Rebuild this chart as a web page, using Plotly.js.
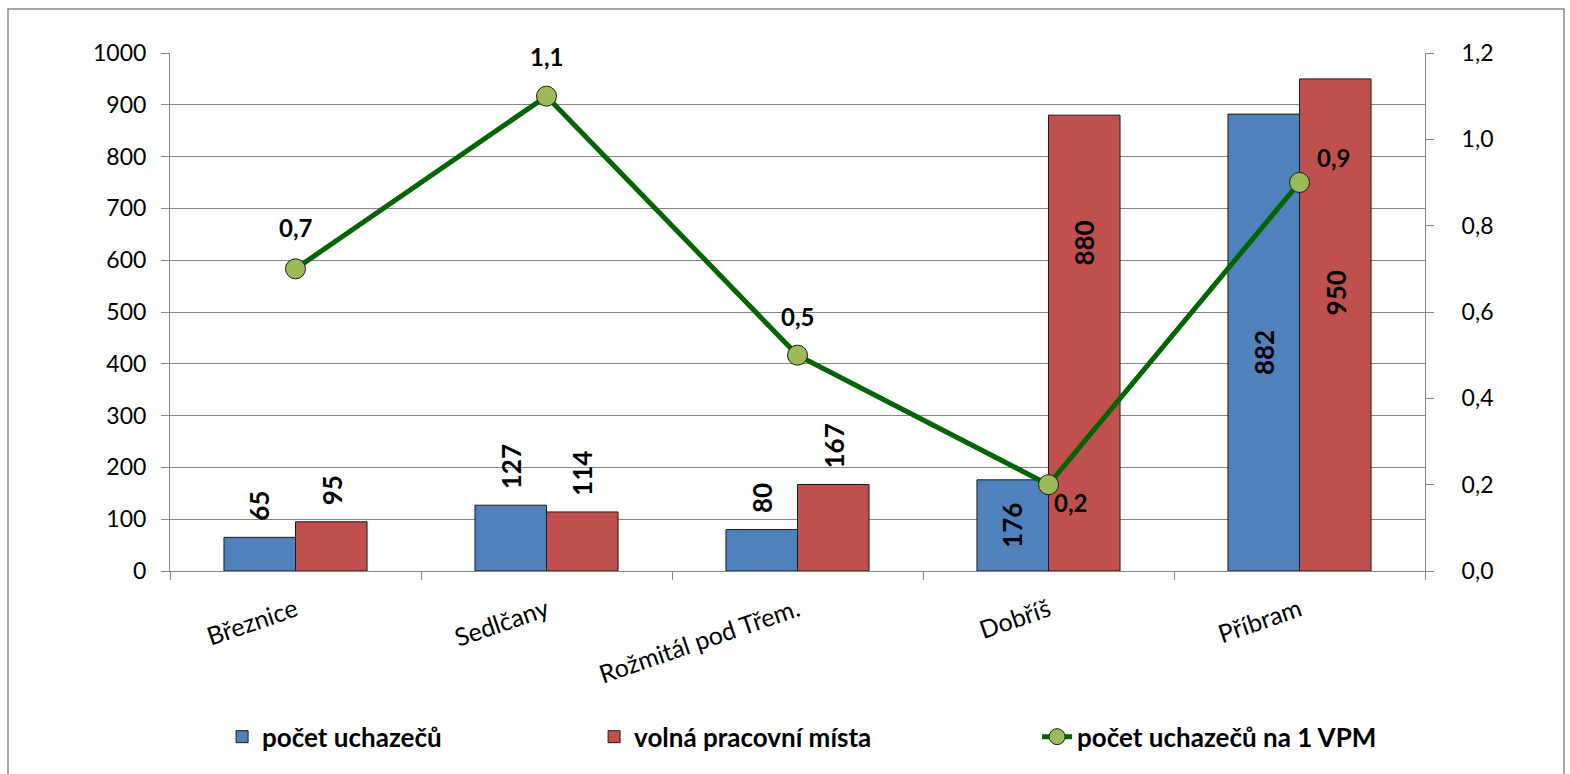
<!DOCTYPE html>
<html>
<head>
<meta charset="utf-8">
<script src="https://cdn.plot.ly/plotly-3.0.1.min.js"></script>
<style>
  html, body { margin: 0; padding: 0; background: #fff; }
  #chart { width: 1570px; height: 774px; }
</style>
</head>
<body>
<div id="chart"></div>
<script>
// ---- data ----
const categories = ['Březnice', 'Sedlčany', 'Rožmitál pod Třem.', 'Dobříš', 'Příbram'];
const uchazeci = [65, 127, 80, 176, 882];
const volnaMista = [95, 114, 167, 880, 950];
const naVPM = [0.7, 1.1, 0.5, 0.2, 0.9];
const seriesNames = ['počet uchazečů', 'volná pracovní místa', 'počet uchazečů na 1 VPM'];

// ---- style ----
const FONT = 'Lato, "Open Sans", "Noto Sans", sans-serif';
const AX = '#868686';
const BAR_OFFSET = 36; // px half-bar offset

const traces = [
  {
    type: 'bar', name: seriesNames[0], x: categories, y: uchazeci,
    marker: { color: '#4F81BD', line: { color: '#1a1a1a', width: 1 } },
    legendwidth: 327, hoverinfo: 'x+y'
  },
  {
    type: 'bar', name: seriesNames[1], x: categories, y: volnaMista,
    marker: { color: '#C0504D', line: { color: '#1a1a1a', width: 1 } },
    legendwidth: 398, hoverinfo: 'x+y'
  },
  {
    type: 'scatter', mode: 'lines+markers', name: seriesNames[2], x: categories, y: naVPM,
    yaxis: 'y2',
    line: { color: '#006400', width: 5 },
    marker: { size: 20, color: '#9BBB59', line: { color: '#1a1a1a', width: 1 } },
    hoverinfo: 'x+y'
  }
];

const fmt1 = v => v.toFixed(1).replace('.', ',');
const annotations = [];

// bar value labels
function barLabel(cat, v, shiftX, yPos, yanchor, yshift) {
  annotations.push({
    x: cat, y: yPos, xref: 'x', yref: 'y', xshift: shiftX, yshift: yshift,
    text: String(v), showarrow: false, textangle: -90,
    xanchor: 'center', yanchor: yanchor,
    font: { family: FONT, size: 26, color: '#000', weight: 'bold' }
  });
}
// manual nudges for labels drawn inside bars (px)
const insideShiftBlue = [0, 0, 0, 0, -10];
const insideShiftRed = [0, 0, 0, 100, 32];
categories.forEach((c, i) => {
  const a = uchazeci[i], b = volnaMista[i];
  if (a > 170) barLabel(c, a, -BAR_OFFSET, a / 2, 'middle', insideShiftBlue[i]);
  else barLabel(c, a, -BAR_OFFSET, a, 'bottom', 14);
  if (b > 170) barLabel(c, b, BAR_OFFSET, b / 2, 'middle', insideShiftRed[i]);
  else barLabel(c, b, BAR_OFFSET, b, 'bottom', 14);
});

// line value labels
const lineLabelShift = [[0, 41], [0, 40], [0, 39], [22, -18], [34, 25]];
categories.forEach((c, i) => {
  annotations.push({
    x: c, y: naVPM[i], xref: 'x', yref: 'y2',
    xshift: lineLabelShift[i][0], yshift: lineLabelShift[i][1],
    text: fmt1(naVPM[i]), showarrow: false,
    xanchor: 'center', yanchor: 'middle',
    font: { family: FONT, size: 24, color: '#000', weight: 'bold' }
  });
});

const layout = {
  width: 1570, height: 774,
  margin: { l: 170, r: 145, t: 53, b: 203, pad: 0 },
  paper_bgcolor: '#fff', plot_bgcolor: '#fff',
  separators: ', ',
  font: { family: FONT, size: 22, color: '#000' },
  barmode: 'group', bargap: 0.43, bargroupgap: 0,
  showlegend: true,
  legend: {
    orientation: 'h', x: 0.0415, xanchor: 'left', y: -0.32, yanchor: 'middle',
    font: { family: FONT, size: 26, color: '#000', weight: 'bold' },
    traceorder: 'normal', itemwidth: 30
  },
  xaxis: {
    type: 'category', tickson: 'boundaries', ticks: 'outside', ticklen: 8,
    tickcolor: AX, showline: true, linecolor: AX, linewidth: 1,
    tickangle: -19, tickfont: { family: FONT, size: 25, color: '#000' },
    ticklabelstandoff: 14,
    showgrid: false, fixedrange: true
  },
  yaxis: {
    range: [0, 1000], dtick: 100, tick0: 0, ticks: 'outside', ticklen: 8, tickcolor: AX,
    showline: true, linecolor: AX, linewidth: 1,
    showgrid: true, gridcolor: AX, gridwidth: 1, zeroline: false,
    tickfont: { family: FONT, size: 23, color: '#000' }, ticklabelstandoff: 10
  },
  yaxis2: {
    overlaying: 'y', side: 'right', range: [0, 1.2], dtick: 0.2, tick0: 0,
    tickformat: '.1f', ticks: 'outside', ticklen: 8, tickcolor: AX,
    showline: true, linecolor: AX, linewidth: 1, showgrid: false, zeroline: false,
    tickfont: { family: FONT, size: 23, color: '#000' }, ticklabelstandoff: 23
  },
  annotations: annotations,
  shapes: [{
    type: 'rect', xref: 'paper', yref: 'paper',
    x0: (8 - 170) / 1255, x1: (1564 - 170) / 1255,
    y0: (571 - 800) / 518, y1: (571 - 9) / 518,
    line: { color: '#8a8a8a', width: 1.5 }, fillcolor: 'rgba(0,0,0,0)', layer: 'below'
  }]
};

Plotly.newPlot('chart', traces, layout, { displayModeBar: false, staticPlot: true });
</script>
</body>
</html>
